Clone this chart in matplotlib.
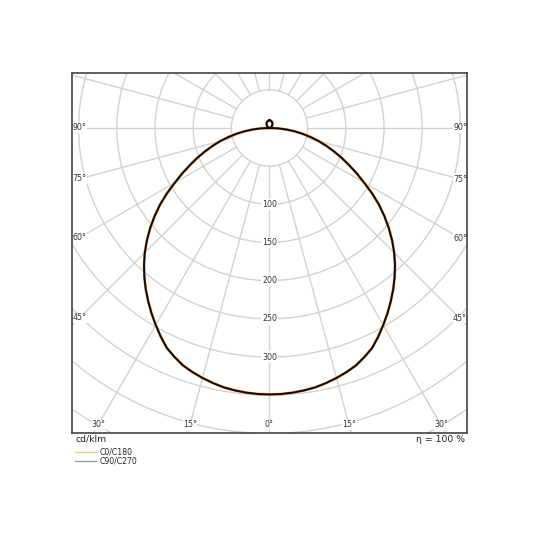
import numpy as np
import matplotlib
matplotlib.use("Agg")
import matplotlib.pyplot as plt
from matplotlib.patches import Circle

# ---- data (cd/klm) ----
gamma = [0, 2.5, 5, 7.5, 10, 12.5, 15, 17.5, 20, 22.5, 25, 27.5, 30, 32.5, 35, 37.5,
         40, 42.5, 45, 47.5, 50, 52.5, 55, 57.5, 60, 62.5, 65, 67.5, 70, 72.5, 75,
         77.5, 80, 82.5, 85, 87.5, 90,
         95, 100, 105, 110, 115, 120, 125, 130, 135, 140, 145, 150, 155, 160, 165,
         170, 175, 180]
c0_c180 = [349, 348.8, 348, 346.7, 345, 342.2, 339, 335.3, 331, 324.8, 318, 308.3,
           298, 287.7, 277, 266.2, 255, 243.3, 231, 217.8, 204, 189.7, 175, 159.2,
           143, 128.8, 115, 102.4, 90, 78.4, 67, 55.4, 44, 33, 22, 11, 0,
           0, 0.3, 0.7, 1.2, 1.8, 2.5, 3.3, 4.1, 5.0, 5.9, 6.7, 7.5, 8.2, 8.8, 9.3,
           9.7, 9.9, 10]
c90_c270 = [349, 348.8, 348, 346.7, 345, 342.2, 339, 335.3, 331, 324.8, 318, 308.3,
            298, 287.7, 277, 266.2, 255, 243.3, 231, 217.8, 204, 189.7, 175, 159.2,
            143, 128.8, 115, 102.4, 90, 78.4, 67, 55.4, 44, 33, 22, 11, 0,
            0, 0.3, 0.7, 1.2, 1.8, 2.5, 3.3, 4.1, 5.0, 5.9, 6.7, 7.5, 8.2, 8.8, 9.3,
            9.7, 9.9, 10]
series_names = ["C0/C180", "C90/C270"]
ring_values = [50, 100, 150, 200, 250, 300, 350, 400, 450]
ring_labels = [100, 150, 200, 250, 300]
angle_labels = [0, 15, 30, 45, 60, 75, 90]
unit_text = "cd/klm"
eta_text = "η = 100 %"

# ---- figure ----
fig = plt.figure(figsize=(5.4, 5.4), dpi=100)
ax = fig.add_axes([72.3 / 540, (540 - 432.7) / 540, 395 / 540, 360 / 540])
XL, XR = -258.3, 259.1
YB, YT = -399.1, 72.4
ax.set_xlim(XL, XR)
ax.set_ylim(YB, YT)
ax.set_aspect("equal", adjustable="box")
ax.set_xticks([])
ax.set_yticks([])
for s in ax.spines.values():
    s.set_color("#444444")
    s.set_linewidth(1.2)

grid_col = "#d2d2d2"
# rings
for r in ring_values:
    ax.add_patch(Circle((0, 0), r, fill=False, ec=grid_col, lw=1.0, zorder=1))
# radial lines every 15 deg, starting at first ring
for a in range(0, 360, 15):
    t = np.deg2rad(a)
    ax.plot([ring_values[0] * np.sin(t), 600 * np.sin(t)],
            [-ring_values[0] * np.cos(t), -600 * np.cos(t)],
            color=grid_col, lw=1.0, zorder=1)

# ring labels
for r in ring_labels:
    ax.text(0, -r, str(r), ha="center", va="center", fontsize=5.7, color="#333333",
            bbox=dict(boxstyle="square,pad=0.15", fc="white", ec="none"), zorder=2)

# angle labels
inset = 9.5
ylab = -389.0
for a in angle_labels:
    t = np.deg2rad(a)
    for side in (-1, 1):
        if a == 0 and side == 1:
            continue
        if a <= 30:
            x = side * (-ylab) * np.tan(t)
            y = ylab
        else:
            edge = XL + inset if side < 0 else XR - inset
            x = edge
            y = -abs(edge) / np.tan(t) if a < 90 else 0.0
        ax.text(x, y, f"{a}°", ha="center", va="center", fontsize=5.7, color="#333333",
                bbox=dict(boxstyle="square,pad=0.05", fc="white", ec="none"), zorder=2)

# curves
def full_curve(vals):
    g = np.deg2rad(np.array(gamma, dtype=float))
    v = np.array(vals, dtype=float)
    xl = -(v * np.sin(g))[::-1]
    yl = -(v * np.cos(g))[::-1]
    xr = v * np.sin(g)
    yr = -v * np.cos(g)
    return np.concatenate([xl, xr]), np.concatenate([yl, yr])

x0, y0 = full_curve(c0_c180)
x1, y1 = full_curve(c90_c270)
ax.plot(x0, y0, color="#e8a060", lw=2.0, zorder=3, solid_joinstyle="round")
ax.plot(x1, y1, color="#140800", lw=1.4, zorder=4, solid_joinstyle="round")

# texts below frame
fig.text(75 / 540, 1 - 439 / 540, unit_text, ha="left", va="center", fontsize=6.7, color="#222222")
fig.text(465 / 540, 1 - 439 / 540, eta_text, ha="right", va="center", fontsize=6.7, color="#222222")

# legend
leg_cols = ["#f5c88c", "#8c9c9c"]
for i, (name, col) in enumerate(zip(series_names, leg_cols)):
    yy = 1 - (452.3 + 8.5 * i) / 540
    fig.add_artist(plt.Line2D([75 / 540, 96 / 540], [yy, yy], color=col, lw=0.9,
                              transform=fig.transFigure))
    fig.text(100 / 540, yy, name, ha="left", va="center", fontsize=5.6, color="#222222")

fig.savefig("out.png", dpi=100)
